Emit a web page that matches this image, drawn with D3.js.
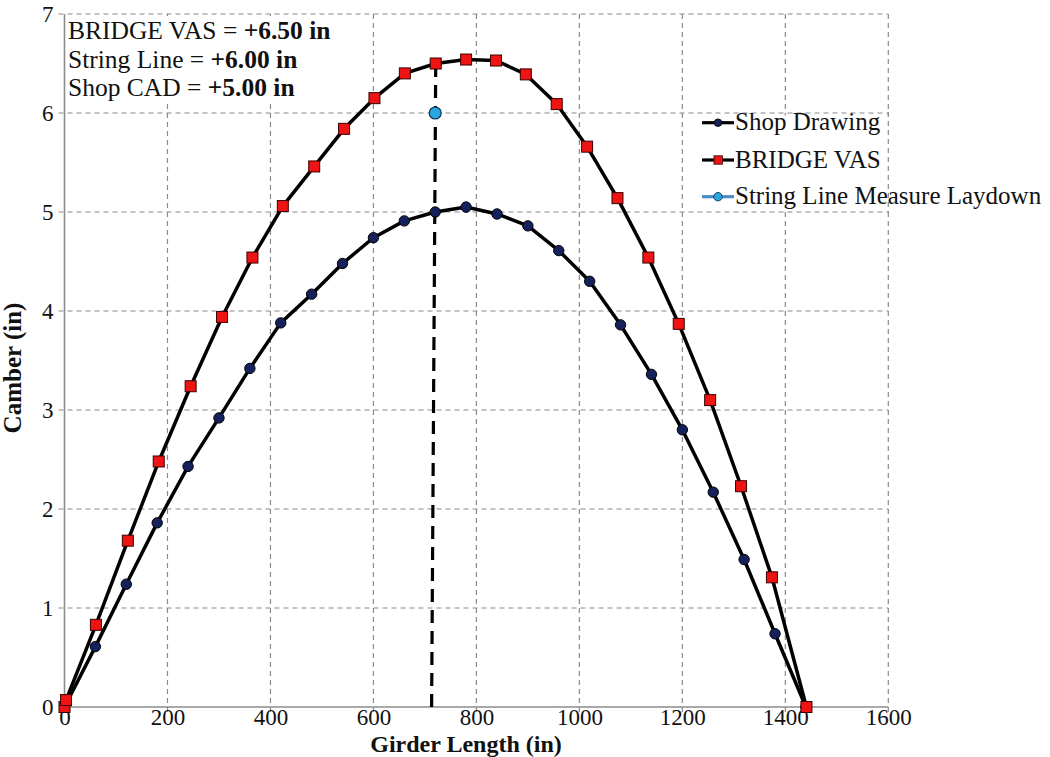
<!DOCTYPE html>
<html>
<head>
<meta charset="utf-8">
<script src="https://cdn.jsdelivr.net/npm/d3@7"></script>
<style>
  html, body { margin: 0; padding: 0; background: #fff; }
  svg { display: block; }
  text { font-family: "Liberation Serif", "Times New Roman", serif; fill: #111; }
</style>
</head>
<body>
<svg id="chart" width="1050" height="757"></svg>
<script>
// ---- data ----
const shopX = [0, 60, 120, 180, 240, 300, 360, 420, 480, 540, 600, 660, 720, 780, 840, 900, 960, 1020, 1080, 1140, 1200, 1260, 1320, 1380, 1440];
const shopY = [0, 0.61, 1.24, 1.86, 2.43, 2.92, 3.42, 3.88, 4.17, 4.48, 4.74, 4.91, 5.00, 5.05, 4.98, 4.86, 4.61, 4.30, 3.86, 3.36, 2.80, 2.17, 1.49, 0.74, 0];

const vasX = [0, 3, 61, 123, 183, 245, 306, 365, 424, 485, 543, 602, 661, 721, 780, 838, 896, 956, 1015, 1074, 1134, 1193, 1254, 1314, 1374, 1441];
const vasY = [0, 0.07, 0.83, 1.68, 2.48, 3.24, 3.94, 4.54, 5.06, 5.46, 5.84, 6.15, 6.40, 6.50, 6.54, 6.53, 6.39, 6.09, 5.66, 5.14, 4.54, 3.87, 3.10, 2.23, 1.31, 0];

const stringX = [720];
const stringY = [6.0];

const laydownX = [713, 721];
const laydownY = [0, 6.48];

const xTicks = [0, 200, 400, 600, 800, 1000, 1200, 1400, 1600];
const yTicks = [0, 1, 2, 3, 4, 5, 6, 7];

const annotationLines = [
  ["BRIDGE VAS = ", "+6.50 in"],
  ["String Line = ", "+6.00 in"],
  ["Shop CAD = ", "+5.00 in"]
];
const legendLabels = ["Shop Drawing", "BRIDGE VAS", "String Line Measure Laydown"];

// ---- layout ----
const svg = d3.select("#chart");
const x = d3.scaleLinear().domain([0, 1600]).range([64.5, 888.3]);
const y = d3.scaleLinear().domain([0, 7]).range([707, 14]);

const gridColor = "#8a8a8a";
const navy = "#14215a";
const red = "#ee1414";
const lightBlue = "#2aa6df";

// grid
const grid = svg.append("g");
grid.selectAll("line.v").data(xTicks.filter(d => d > 0)).enter().append("line")
  .attr("x1", d => x(d)).attr("x2", d => x(d))
  .attr("y1", y(0) + 5).attr("y2", y(7))
  .attr("stroke", gridColor).attr("stroke-width", 1.2).attr("stroke-dasharray", "5,4");
grid.selectAll("line.h").data(yTicks.filter(d => d > 0)).enter().append("line")
  .attr("y1", d => y(d)).attr("y2", d => y(d))
  .attr("x1", x(0) - 6).attr("x2", x(1600))
  .attr("stroke", gridColor).attr("stroke-width", 1.2).attr("stroke-dasharray", "5,4");

// axes (labels)
const xAxis = svg.append("g").attr("transform", `translate(0,${y(0)})`)
  .call(d3.axisBottom(x).tickValues(xTicks).tickSize(0).tickPadding(2).tickFormat(d3.format("d")));
xAxis.select(".domain").remove();
xAxis.selectAll("text").style("font-size", "23px").style("font-family", "'Liberation Serif', serif").attr("fill", "#111");

const yAxis = svg.append("g").attr("transform", `translate(${x(0)},0)`)
  .call(d3.axisLeft(y).tickValues(yTicks).tickSize(0).tickPadding(11).tickFormat(d3.format("d")));
yAxis.select(".domain").remove();
yAxis.selectAll("text").style("font-size", "23px").style("font-family", "'Liberation Serif', serif").attr("fill", "#111");

// axis lines
svg.append("line").attr("x1", x(0)).attr("x2", x(0)).attr("y1", y(0) + 1).attr("y2", y(7))
  .attr("stroke", "#8c8c8c").attr("stroke-width", 1.6);
svg.append("line").attr("x1", x(0)).attr("x2", x(1600)).attr("y1", y(0)).attr("y2", y(0))
  .attr("stroke", "#8c8c8c").attr("stroke-width", 1.6);

// annotation box
svg.append("rect").attr("x", x(0) + 2).attr("y", y(7) + 2).attr("width", 282).attr("height", 86).attr("fill", "#fff");
const ann = svg.append("g");
annotationLines.forEach((ln, i) => {
  const t = ann.append("text").attr("x", 68).attr("y", 39 + i * 28.7).style("font-size", "25.5px");
  t.append("tspan").text(ln[0]);
  t.append("tspan").style("font-weight", "bold").text(ln[1]);
});

// laydown dashed line
const line = d3.line().x(d => x(d[0])).y(d => y(d[1]));
svg.append("path").datum(d3.zip(laydownX, laydownY)).attr("d", line)
  .attr("fill", "none").attr("stroke", "#000").attr("stroke-width", 3.2).attr("stroke-dasharray", "13,8");

// series lines
svg.append("path").datum(d3.zip(shopX, shopY)).attr("d", line)
  .attr("fill", "none").attr("stroke", "#000").attr("stroke-width", 3.5).attr("stroke-linejoin", "round");
svg.append("path").datum(d3.zip(vasX, vasY)).attr("d", line)
  .attr("fill", "none").attr("stroke", "#000").attr("stroke-width", 3.5).attr("stroke-linejoin", "round");

// markers
svg.append("g").selectAll("circle").data(d3.zip(shopX, shopY)).enter().append("circle")
  .attr("cx", d => x(d[0])).attr("cy", d => y(d[1])).attr("r", 5.2)
  .attr("fill", navy).attr("stroke", "#000").attr("stroke-width", 1);
svg.append("g").selectAll("rect").data(d3.zip(vasX, vasY)).enter().append("rect")
  .attr("x", d => x(d[0]) - 5.5).attr("y", d => y(d[1]) - 5.5).attr("width", 11).attr("height", 11)
  .attr("fill", red).attr("stroke", "#3a0000").attr("stroke-width", 1);
svg.append("g").selectAll("circle").data(d3.zip(stringX, stringY)).enter().append("circle")
  .attr("cx", d => x(d[0])).attr("cy", d => y(d[1])).attr("r", 6)
  .attr("fill", lightBlue).attr("stroke", "#0b3550").attr("stroke-width", 1.2);

// legend
svg.append("rect").attr("x", 690).attr("y", 115.5).attr("width", 360).attr("height", 95).attr("fill", "#fff");
svg.append("line").attr("x1", x(1600)).attr("x2", x(1600)).attr("y1", 112).attr("y2", 213)
  .attr("stroke", gridColor).attr("stroke-width", 1.2).attr("stroke-dasharray", "5,4");
const leg = svg.append("g");
const rowsY = [122.7, 160, 196.7];
legendLabels.forEach((lab, i) => {
  const cy = rowsY[i];
  leg.append("line").attr("x1", 702).attr("x2", 734).attr("y1", cy).attr("y2", cy)
    .attr("stroke", i === 2 ? "#4a8cc6" : "#000").attr("stroke-width", 3.2);
  if (i === 0) {
    leg.append("circle").attr("cx", 718).attr("cy", cy).attr("r", 3.8).attr("fill", navy).attr("stroke", "#000").attr("stroke-width", 0.8);
  } else if (i === 1) {
    leg.append("rect").attr("x", 714).attr("y", cy - 4.2).attr("width", 8.4).attr("height", 8.4).attr("fill", red).attr("stroke", "#3a0000").attr("stroke-width", 0.8);
  } else {
    leg.append("circle").attr("cx", 718).attr("cy", cy).attr("r", 4.2).attr("fill", lightBlue).attr("stroke", "#0b3550").attr("stroke-width", 0.9);
  }
  leg.append("text").attr("x", 735).attr("y", cy + 7.5).style("font-size", "25px").text(lab);
});

// axis titles
svg.append("text").attr("x", 466).attr("y", 752).attr("text-anchor", "middle")
  .style("font-size", "24px").style("font-weight", "bold").text("Girder Length (in)");
svg.append("text").attr("transform", "translate(21,368) rotate(-90)").attr("text-anchor", "middle")
  .style("font-size", "25px").style("font-weight", "bold").text("Camber (in)");
</script>
</body>
</html>
